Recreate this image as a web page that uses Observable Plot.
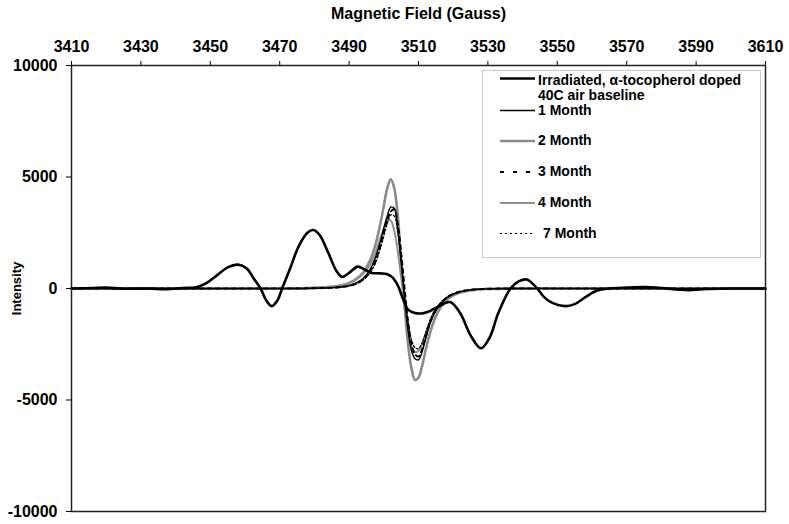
<!DOCTYPE html>
<html>
<head>
<meta charset="utf-8">
<script src="https://cdn.jsdelivr.net/npm/d3@7"></script>
<script src="https://cdn.jsdelivr.net/npm/@observablehq/plot@0.6"></script>
<style>
  html, body { margin: 0; padding: 0; background: white; }
  #chart { width: 789px; height: 524px; }
</style>
</head>
<body>
<div id="chart"></div>
<script>
// ---- tick labels ----
const xTicks = [3410, 3430, 3450, 3470, 3490, 3510, 3530, 3550, 3570, 3590, 3610];
const yTicks = [-10000, -5000, 0, 5000, 10000];

// ---- Irradiated, α-tocopherol doped 40C air baseline ----
const irrField = [3410,3416,3420,3425,3432,3437,3442,3446,3449,3452,3455,3458,3460.5,3462.5,3464.5,3466,3467.7,3469.3,3470.7,3473,3475.5,3478,3479.7,3481.5,3484,3486.3,3488,3490,3492.5,3494.5,3496.5,3499,3501,3502.5,3504,3505.5,3507,3509,3510.8,3513,3515.4,3517.3,3519.2,3522,3525,3528,3530.5,3533,3536.5,3539,3541.3,3543,3544.2,3546,3548,3552.4,3555,3558,3561.5,3565,3570,3575,3580,3585,3588,3592,3600,3610];
const irrValue = [0,20,40,-10,0,-30,20,60,250,600,950,1070,900,450,0,-500,-790,-550,0,900,1900,2500,2620,2400,1600,800,520,700,980,850,700,680,640,500,150,-450,-950,-1100,-1120,-1030,-840,-680,-610,-1100,-2100,-2680,-2200,-1100,0,330,400,200,0,-350,-600,-790,-700,-400,-90,0,40,60,20,-50,-75,-30,0,0];

// ---- month series (shared field grid) ----
const monthField = [3410,3470,3480,3485,3488,3490,3492,3494,3496,3497.5,3499,3500,3501,3502,3503,3504,3505,3506,3507,3508,3509,3510,3511,3512,3513.5,3515,3517,3519,3522,3526,3530,3540,3560,3610];
const month1 = [0,0,10,40,80,140,250,450,850,1350,2100,2700,3250,3650,3600,2700,1200,-500,-1900,-2800,-3150,-3200,-2850,-2300,-1500,-1000,-600,-330,-150,-50,-15,0,0,0];
const month2 = [0,0,30,80,150,250,420,700,1250,1900,2900,3700,4500,4900,4500,3300,1200,-800,-2500,-3600,-4100,-4000,-3500,-2800,-1900,-1250,-700,-400,-180,-60,-20,0,0,0];
const month3 = [0,0,10,30,70,120,220,400,750,1200,1900,2500,3050,3450,3550,2900,1600,0,-1500,-2500,-2950,-3050,-2750,-2200,-1450,-950,-560,-320,-140,-50,-15,0,0,0];
const month4 = [0,0,30,80,150,240,400,650,1050,1550,2250,2700,3050,3050,2600,1700,500,-800,-1900,-2600,-2850,-2800,-2500,-2050,-1400,-950,-570,-330,-150,-50,-15,0,0,0];
const month7 = [0,0,10,30,60,110,200,370,700,1100,1800,2350,2900,3300,3250,2500,1200,-300,-1500,-2300,-2650,-2700,-2450,-2000,-1350,-900,-530,-300,-130,-40,-10,0,0,0];

const seriesNames = ["Irradiated, α-tocopherol doped 40C air baseline", "1 Month", "2 Month", "3 Month", "4 Month", "7 Month"];
const legendLabels = [["Irradiated, α-tocopherol doped", "40C air baseline"], ["1 Month"], ["2 Month"], ["3 Month"], ["4 Month"], ["7 Month"]];

const styles = {
  "Irradiated, α-tocopherol doped 40C air baseline": {stroke: "#000", strokeWidth: 2.6, dash: null},
  "1 Month": {stroke: "#000", strokeWidth: 1.4, dash: null},
  "2 Month": {stroke: "#8a8a8a", strokeWidth: 2.6, dash: null},
  "3 Month": {stroke: "#000", strokeWidth: 2, dash: "4,4"},
  "4 Month": {stroke: "#8f8f8f", strokeWidth: 2, dash: null},
  "7 Month": {stroke: "#000", strokeWidth: 1.2, dash: "2,2"}
};

const toRows = (fields, vals) => fields.map((f, i) => ({field: f, value: vals[i]}));
const data = {
  "Irradiated, α-tocopherol doped 40C air baseline": toRows(irrField, irrValue),
  "1 Month": toRows(monthField, month1),
  "2 Month": toRows(monthField, month2),
  "3 Month": toRows(monthField, month3),
  "4 Month": toRows(monthField, month4),
  "7 Month": toRows(monthField, month7)
};

const drawOrder = ["2 Month", "4 Month", "Irradiated, α-tocopherol doped 40C air baseline", "1 Month", "3 Month", "7 Month"];
const lineMarks = drawOrder.map(name => Plot.line(data[name], {
  x: "field", y: "value", curve: "catmull-rom",
  stroke: styles[name].stroke, strokeWidth: styles[name].strokeWidth,
  strokeDasharray: styles[name].dash || undefined
}));

const fontFamily = "Arial, 'Liberation Sans', sans-serif";

const chart = Plot.plot({
  width: 789, height: 524,
  marginLeft: 71, marginRight: 24, marginTop: 65, marginBottom: 13,
  x: {domain: [3410, 3610]},
  y: {domain: [-10000, 10000]},
  style: {fontFamily, fontSize: "16px", fontWeight: "bold", background: "white", color: "black", overflow: "visible"},
  marks: [
    Plot.axisX({anchor: "top", ticks: xTicks, tickSize: 5, tickPadding: 9, tickFormat: d => String(d),
      label: "Magnetic Field (Gauss)", labelAnchor: "center", labelArrow: "none", labelOffset: 58}),
    Plot.axisY({anchor: "left", ticks: yTicks, tickSize: 5, tickPadding: 9, tickFormat: d => String(d),
      label: "Intensity", labelAnchor: "center", labelArrow: "none", labelOffset: 60}),
    ...lineMarks,
    Plot.frame({stroke: "#222", strokeWidth: 1.5})
  ]
});

document.getElementById("chart").appendChild(chart);

// y-axis label smaller
d3.select(chart).selectAll('g[aria-label="y-axis label"] text').attr("font-size", 13);

// ---- legend ----
const svg = d3.select(chart);
const lg = svg.append("g").attr("class", "legend").attr("font-family", fontFamily)
  .attr("font-weight", "bold").attr("font-size", 14).attr("text-anchor", "start");
lg.append("rect").attr("x", 482.5).attr("y", 70.5).attr("width", 278).attr("height", 187)
  .attr("fill", "white").attr("stroke", "#c8c8c8").attr("stroke-width", 1);
const rowY = [78.5, 110.5, 141, 172, 203, 233.5];
const textX = [538, 538, 538, 538, 538, 543];
const textDY = [2.5, 0.5, 0, 0, 0, 0];
seriesNames.forEach((name, i) => {
  const s = styles[name];
  lg.append("line").attr("x1", 500).attr("x2", 535).attr("y1", rowY[i]).attr("y2", rowY[i])
    .attr("stroke", s.stroke).attr("stroke-width", s.strokeWidth)
    .attr("stroke-dasharray", name === "3 Month" ? "4,9" : (name === "7 Month" ? "2,3" : null));
  legendLabels[i].forEach((t, j) => {
    lg.append("text").attr("x", textX[i]).attr("y", rowY[i] + textDY[i] + j * 15)
      .attr("dy", "0.32em").attr("text-anchor", "start").text(t);
  });
});
</script>
</body>
</html>
